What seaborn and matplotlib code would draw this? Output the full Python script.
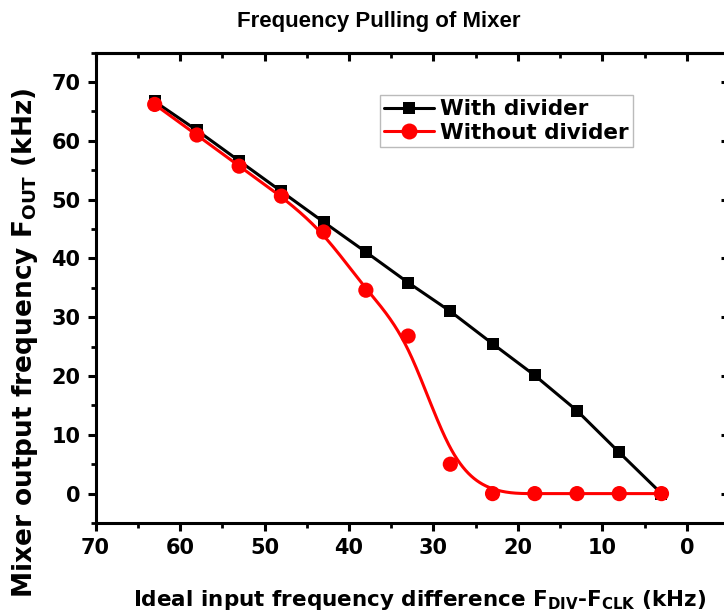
import numpy as np
import pandas as pd
import matplotlib
matplotlib.use("Agg")
import matplotlib.pyplot as plt
import seaborn as sns
from matplotlib.lines import Line2D
from matplotlib.ticker import MultipleLocator

# ---- data ----
x_vals = [63, 58, 53, 48, 43, 38, 33, 28, 23, 18, 13, 8, 3]
with_divider = [66.7, 61.8, 56.6, 51.4, 46.2, 41.1, 35.9, 31.0, 25.5, 20.1, 14.1, 7.0, 0.0]
without_divider = [66.2, 61.0, 55.7, 50.6, 44.5, 34.6, 26.8, 5.0, 0.0, 0.0, 0.0, 0.0, 0.0]
series_names = ["With divider", "Without divider"]
x_ticks = [70, 60, 50, 40, 30, 20, 10, 0]
y_ticks = [0, 10, 20, 30, 40, 50, 60, 70]

sns.set_theme(style="ticks")
FONT = ['DejaVu Sans']
plt.rcParams['font.family'] = FONT
plt.rcParams['font.weight'] = 'bold'
plt.rcParams['text.color'] = 'black'
plt.rcParams['axes.labelcolor'] = 'black'
plt.rcParams['xtick.color'] = 'black'
plt.rcParams['ytick.color'] = 'black'
plt.rcParams['mathtext.fontset'] = 'custom'
plt.rcParams['mathtext.rm'] = 'DejaVu Sans:bold'
plt.rcParams['mathtext.it'] = 'DejaVu Sans:bold'
plt.rcParams['mathtext.bf'] = 'DejaVu Sans:bold'


def bspline(px, py, k=3, num=600):
    """Clamped uniform B-spline using data points as control points."""
    P = np.column_stack([px, py]).astype(float)
    n = len(P)
    inner = np.arange(1, n - k)
    knots = np.concatenate([np.zeros(k + 1), inner, np.full(k + 1, n - k)])
    ts = np.linspace(0, n - k, num)
    out = []
    for t in ts:
        N = np.zeros(len(knots) - 1)
        for i in range(len(knots) - 1):
            if knots[i] <= t < knots[i + 1]:
                N[i] = 1.0
        if t >= knots[-1]:
            N[n - 1] = 1.0
        for d in range(1, k + 1):
            Nn = np.zeros(len(knots) - 1 - d)
            for i in range(len(Nn)):
                a = 0.0
                den1 = knots[i + d] - knots[i]
                if den1 > 0:
                    a += (t - knots[i]) / den1 * N[i]
                den2 = knots[i + d + 1] - knots[i + 1]
                if den2 > 0:
                    a += (knots[i + d + 1] - t) / den2 * N[i + 1]
                Nn[i] = a
            N = Nn
        out.append(N[:n] @ P)
    out = np.array(out)
    return out[:, 0], out[:, 1]


df = pd.DataFrame({"x": x_vals, "with": with_divider, "without": without_divider})
sx, sy = bspline(x_vals, without_divider)
curve = pd.DataFrame({"x": sx, "y": sy})

fig = plt.figure(figsize=(7.24, 6.15), dpi=100)
ax = fig.add_axes([0.132, 0.1496, 0.875, 0.7647])

sns.lineplot(data=df, x="x", y="with", ax=ax, color="black", lw=2.2,
             marker="s", markersize=9, markeredgewidth=0, sort=False, zorder=3)
sns.lineplot(data=curve, x="x", y="y", ax=ax, color="red", lw=2.2,
             sort=False, estimator=None, zorder=4)
sns.scatterplot(data=df, x="x", y="without", ax=ax, color="red", s=120,
                marker="o", edgecolor="none", zorder=5)

ax.set_xlim(70, -5)
ax.set_ylim(-5, 75)
ax.set_xticks(x_ticks)
ax.set_yticks(y_ticks)
ax.xaxis.set_minor_locator(MultipleLocator(5))
ax.yaxis.set_minor_locator(MultipleLocator(5))
ax.set_xlabel("")
ax.set_ylabel("")

for s in ax.spines.values():
    s.set_visible(True)
    s.set_linewidth(2.2)
    s.set_color("black")

ax.tick_params(axis="both", which="major", direction="out", length=6, width=2.2,
               labelsize=15, pad=5, colors="black")
ax.tick_params(axis="both", which="minor", direction="out", length=3.5, width=2.0)
ax.tick_params(axis="x", which="both", top=False, labeltop=False)
ax.tick_params(axis="y", which="both", right=False, labelright=False)

secx = ax.secondary_xaxis("top")
secx.set_xticks(x_ticks)
secx.xaxis.set_minor_locator(MultipleLocator(5))
secx.tick_params(which="major", direction="in", length=6, width=2.2, labeltop=False)
secx.tick_params(which="minor", direction="in", length=3.5, width=2.0)
secx.spines["top"].set_linewidth(2.2)
secy = ax.secondary_yaxis("right")
secy.set_yticks(y_ticks)
secy.yaxis.set_minor_locator(MultipleLocator(5))
secy.tick_params(which="major", direction="in", length=6, width=2.2, labelright=False)
secy.tick_params(which="minor", direction="in", length=3.5, width=2.0)
secy.spines["right"].set_linewidth(2.2)

for lab in ax.get_xticklabels() + ax.get_yticklabels():
    lab.set_fontweight("bold")

handles = [
    Line2D([], [], color="black", lw=2.2, marker="s", markersize=9, markeredgewidth=0),
    Line2D([], [], color="red", lw=2.2, marker="o", markersize=11.5, markeredgewidth=0),
]
leg = ax.legend(handles, series_names, loc="upper left",
                bbox_to_anchor=((380 - 95.7) / (729 - 95.7), 1 - (95 - 52.7) / (523 - 52.7)),
                frameon=True, fancybox=False, edgecolor="#bbbbbb", framealpha=1,
                prop={"weight": "bold", "size": 15.5}, handlelength=2.3,
                handletextpad=0.3, borderpad=0.2, labelspacing=0.15, borderaxespad=0)
leg.get_frame().set_linewidth(1.0)

fig.text(379 / 724, 1 - 22 / 615, "Frequency Pulling of Mixer", ha="center", va="center",
         fontsize=16, fontweight="bold", family=['Liberation Sans', 'DejaVu Sans'])
fig.text(420 / 724, 1 - 600 / 615,
         r"Ideal input frequency difference F$_{\mathrm{DIV}}$-F$_{\mathrm{CLK}}$ (kHz)",
         ha="center", va="center", fontsize=15.5, fontweight="bold")
fig.text(25 / 724, 1 - 343 / 615,
         r"Mixer output frequency F$_{\mathrm{OUT}}$ (kHz)",
         ha="center", va="center", rotation=90, fontsize=19, fontweight="bold")

fig.savefig("out.png", dpi=100)
